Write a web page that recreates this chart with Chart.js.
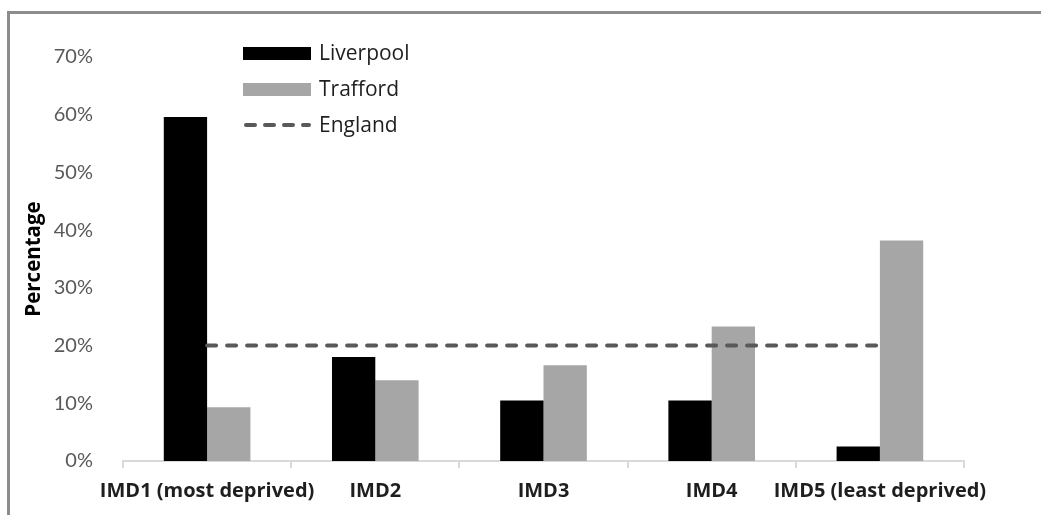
<!DOCTYPE html>
<html>
<head>
<meta charset="utf-8">
<script src="https://cdn.jsdelivr.net/npm/chart.js@4"></script>
<style>
  html, body { margin: 0; padding: 0; background: #fff; }
  #wrap { width: 1041px; height: 515px; }
</style>
</head>
<body>
<div id="wrap"><canvas id="chart" width="1041" height="515"></canvas></div>
<script>
// values
const categories = ['IMD1 (most deprived)', 'IMD2', 'IMD3', 'IMD4', 'IMD5 (least deprived)']
const liverpool = [59.6, 18.0, 10.5, 10.5, 2.5]
const trafford = [9.3, 14.0, 16.6, 23.3, 38.2]
const england = [20, 20, 20, 20, 20]
const yTicks = [0, 10, 20, 30, 40, 50, 60, 70]

const FONT = 'Lato, "Liberation Sans", sans-serif'
const WIDE = '"Open Sans", "Liberation Sans", sans-serif'

// frame (only top + left edge visible in the crop)
const framePlugin = {
  id: 'frame',
  afterDraw(chart) {
    const ctx = chart.ctx
    ctx.save()
    ctx.fillStyle = '#8c8c8c'
    ctx.fillRect(8, 11, chart.width, 3)
    ctx.fillRect(7, 11, 3, chart.height)
    ctx.restore()
  }
}

// legend sits inside the plot, top left
const insideLegend = {
  id: 'insideLegend',
  afterDraw(chart) {
    const ctx = chart.ctx
    const x0 = 243, w = 68
    let y = 53
    ctx.save()
    ctx.font = '21px ' + WIDE
    ctx.textBaseline = 'middle'
    chart.data.datasets.forEach(ds => {
      if (ds.type === 'line') {
        ctx.strokeStyle = ds.borderColor
        ctx.lineWidth = 4
        ctx.lineCap = 'round'
        ctx.setLineDash([9, 10])
        ctx.beginPath()
        ctx.moveTo(x0 + 3, y)
        ctx.lineTo(x0 + w - 2, y)
        ctx.stroke()
        ctx.setLineDash([])
      } else {
        ctx.fillStyle = ds.backgroundColor
        ctx.fillRect(x0, y - 6, w, 13)
      }
      ctx.fillStyle = '#1e1e1e'
      ctx.fillText(ds.label, x0 + w + 8, y + 1)
      y += 36
    })
    ctx.restore()
  }
}

new Chart(document.getElementById('chart'), {
  data: {
    labels: categories,
    datasets: [
      {
        type: 'bar',
        label: 'Liverpool',
        data: liverpool,
        backgroundColor: '#000000',
        categoryPercentage: 0.515,
        barPercentage: 1,
        order: 1
      },
      {
        type: 'bar',
        label: 'Trafford',
        data: trafford,
        backgroundColor: '#a6a6a6',
        categoryPercentage: 0.515,
        barPercentage: 1,
        order: 1
      },
      {
        type: 'line',
        label: 'England',
        data: england,
        borderColor: '#595959',
        borderWidth: 4,
        borderDash: [9, 11],
        borderCapStyle: 'round',
        pointRadius: 0,
        fill: false,
        order: 0
      }
    ]
  },
  options: {
    responsive: false,
    animation: false,
    devicePixelRatio: 1,
    layout: { padding: { top: 57, right: 77, left: 0, bottom: 0 } },
    plugins: {
      legend: { display: false },
      tooltip: { enabled: false }
    },
    scales: {
      x: {
        offset: true,
        grid: {
          display: true,
          offset: true,
          drawOnChartArea: false,
          drawTicks: true,
          tickLength: 7,
          color: '#d9d9d9',
          lineWidth: 2
        },
        border: { display: true, color: '#d9d9d9', width: 2 },
        ticks: {
          autoSkip: false,
          maxRotation: 0,
          padding: 11,
          color: '#1e1e1e',
          font: { family: WIDE, size: 20, weight: 'bold' }
        },
        afterFit(scale) { scale.height = 54 }
      },
      y: {
        min: 0,
        max: 70,
        afterBuildTicks(scale) { scale.ticks = yTicks.map(v => ({ value: v })) },
        grid: { display: false },
        border: { display: false },
        ticks: {
          padding: 22,
          color: '#595959',
          font: { family: FONT, size: 20 },
          callback: v => v + '%'
        },
        title: {
          display: true,
          text: 'Percentage',
          color: '#000',
          padding: { top: 22, bottom: 0 },
          font: { family: WIDE, size: 20.5, weight: 'bold' }
        },
        afterFit(scale) { scale.width = 123 }
      }
    }
  },
  plugins: [framePlugin, insideLegend]
})
</script>
</body>
</html>
